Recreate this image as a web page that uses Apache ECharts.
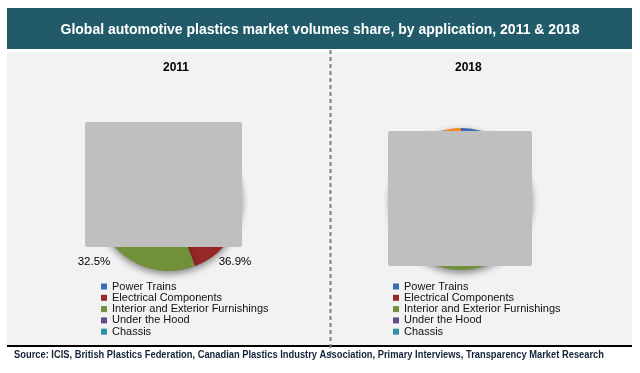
<!DOCTYPE html>
<html>
<head>
<meta charset="utf-8">
<script src="https://cdn.jsdelivr.net/npm/echarts@6/dist/echarts.min.js"></script>
<style>html,body{margin:0;padding:0;background:#fff}#c{width:640px;height:373px}</style>
</head>
<body>
<div id="c"></div>
<script>
const categories = ['Power Trains', 'Electrical Components', 'Interior and Exterior Furnishings', 'Under the Hood', 'Chassis', 'Others'];
const legendNames = ['Power Trains', 'Electrical Components', 'Interior and Exterior Furnishings', 'Under the Hood', 'Chassis'];
const values2011 = [7.3, 36.9, 32.5, 12.0, 8.0, 3.3];
const values2018 = [8.0, 35.0, 33.0, 13.0, 7.0, 4.0];
const shownLabels2011 = [1, 2];
const colors = ['#3a6db4', '#962826', '#71903a', '#654a8c', '#2e93aa', '#f28a22'];
const titleText = 'Global automotive plastics market volumes share, by application, 2011 & 2018';
const sourceText = 'Source: ICIS, British Plastics Federation, Canadian Plastics Industry Association, Primary Interviews, Transparency Market Research';
const labelPos2011 = {1: [235, 262], 2: [94, 262]};

const chart = echarts.init(document.getElementById('c'), null, {renderer: 'canvas'});

function pieData(vals) {
  return categories.map((n, i) => ({name: n, value: vals[i], itemStyle: {color: colors[i]}}));
}

// measure source text to compress it like a narrow font
const srcFont = 'bold 11px "Liberation Sans", Arial';
const ctx = document.createElement('canvas').getContext('2d');
ctx.font = srcFont;
const srcScale = 590 / ctx.measureText(sourceText).width;

const legendCommon = {
  orient: 'vertical', icon: 'rect', itemWidth: 6, itemHeight: 6, itemGap: 0.3, padding: 0,
  selectedMode: false,
  textStyle: {fontFamily: 'Liberation Sans, Arial', fontSize: 11, color: '#111', lineHeight: 11},
  data: legendNames
};

chart.setOption({
  animation: false,
  backgroundColor: '#ffffff',
  color: colors,
  title: [
    {text: titleText, left: 'center', top: 18, textStyle: {color: '#ffffff', fontFamily: 'Liberation Sans, Arial', fontWeight: 'bold', fontSize: 14}},
    {text: '2011', left: 158, top: 57, textStyle: {color: '#000', fontFamily: 'Liberation Sans, Arial', fontWeight: 'bold', fontSize: 12}},
    {text: '2018', left: 450, top: 57, textStyle: {color: '#000', fontFamily: 'Liberation Sans, Arial', fontWeight: 'bold', fontSize: 12}}
  ],
  legend: [
    Object.assign({left: 101, top: 281}, legendCommon),
    Object.assign({left: 393, top: 281}, legendCommon)
  ],
  graphic: [
    {type: 'rect', z: -10, shape: {x: 7, y: 8, width: 625, height: 41}, style: {fill: '#215a68'}, silent: true},
    {type: 'rect', z: -10, shape: {x: 7, y: 52, width: 625, height: 293}, style: {fill: '#f2f2f2'}, silent: true},
    {type: 'line', z: 5, shape: {x1: 330.5, y1: 50, x2: 330.5, y2: 355}, style: {stroke: '#7f7f7f', lineWidth: 2, lineDash: [4, 3]}, silent: true},
    {type: 'line', z: 4, shape: {x1: 7, y1: 346, x2: 632, y2: 346}, style: {stroke: '#000', lineWidth: 2}, silent: true},
    {type: 'rect', z: 100, shape: {x: 85, y: 122, width: 157, height: 125, r: 2}, style: {fill: '#bfbfbf'}, silent: true},
    {type: 'rect', z: 100, shape: {x: 388, y: 131, width: 144, height: 135, r: 2}, style: {fill: '#bfbfbf'}, silent: true},
    {type: 'text', z: 10, x: 14, y: 355, scaleX: srcScale, originX: 0, silent: true,
     style: {text: sourceText, font: srcFont, fill: '#13243a', textVerticalAlign: 'middle', verticalAlign: 'middle'}}
  ],
  series: [
    {
      type: 'pie', center: [169, 198], radius: 73, startAngle: 90, clockwise: true,
      data: pieData(values2011),
      itemStyle: {shadowBlur: 7, shadowOffsetY: 3, shadowColor: 'rgba(0,0,0,0.45)'},
      label: {
        show: true, position: 'outside', fontFamily: 'Liberation Sans, Arial', fontSize: 11.5, color: '#000',
        formatter: p => shownLabels2011.indexOf(p.dataIndex) >= 0 ? p.value.toFixed(1) + '%' : ''
      },
      labelLine: {show: false},
      labelLayout: p => {
        const pos = labelPos2011[p.dataIndex];
        if (!pos) return {};
        return {x: pos[0], y: pos[1], align: 'center', verticalAlign: 'middle'};
      },
      emphasis: {disabled: true}
    },
    {
      type: 'pie', center: [461, 199], radius: 71, startAngle: 90, clockwise: true,
      data: pieData(values2018),
      itemStyle: {shadowBlur: 7, shadowOffsetY: 3, shadowColor: 'rgba(0,0,0,0.45)'},
      label: {show: false},
      labelLine: {show: false},
      emphasis: {disabled: true}
    }
  ]
});
</script>
</body>
</html>
